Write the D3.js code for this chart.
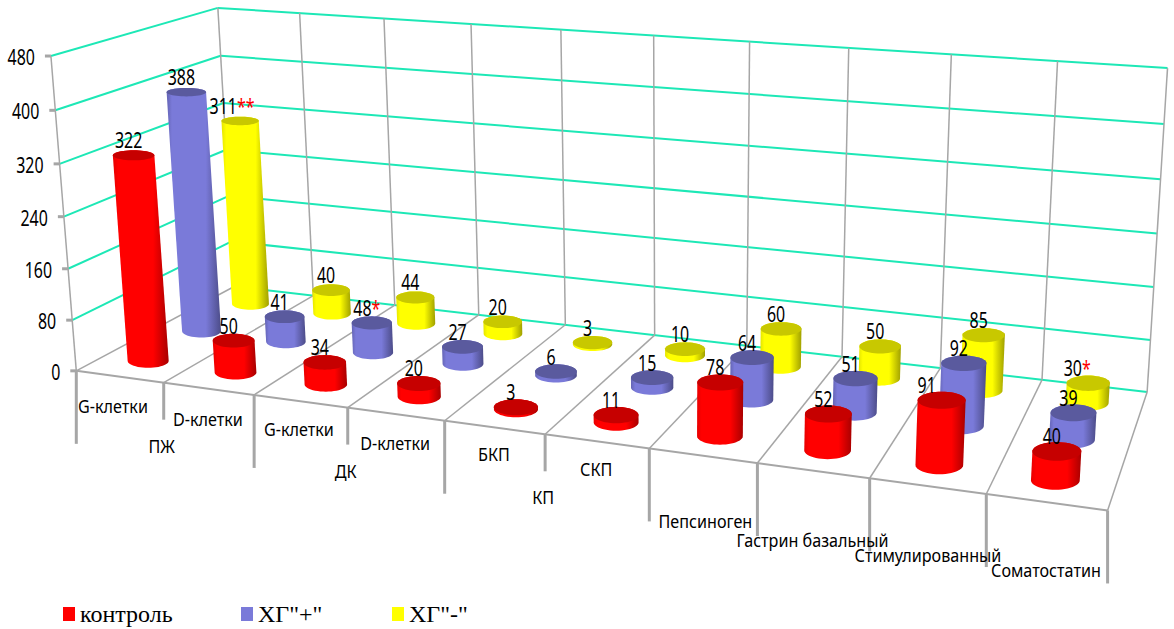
<!DOCTYPE html>
<html><head><meta charset="utf-8">
<script src="https://cdnjs.cloudflare.com/ajax/libs/d3/7.8.5/d3.min.js"></script>
<style>html,body{margin:0;padding:0;background:#fff}svg{display:block}</style>
</head><body><svg id="chart" width="1174" height="629"></svg>
<script>
// Cell density by stomach / duodenum region, three patient groups
const categories = ["G-клетки","D-клетки","G-клетки","D-клетки","БКП","СКП","Пепсиноген","Гастрин базальный","Стимулированный","Соматостатин"];
const control  = [322,50,34,20,3,11,78,52,91,40];
const hgPlus   = [388,41,48,27,6,15,64,51,92,39];
const hgMinus  = [311,40,44,20,3,10,60,50,85,30];
const seriesNames = ['контроль','ХГ"+"','ХГ"-"'];
const yTicks = [0,80,160,240,320,400,480];
const groupLabels = [["ПЖ",1],["ДК",3],["КП",5]];
const marks = {"2:0":"**","1:2":"*","2:9":"*"};
const labelNudge = {"0:8":-10,"2:9":-6,"2:0":-3};

const palette = [
  {hi:"#ff0000",lo:"#a80000",edge:"#e80000",top:"#c60000"},
  {hi:"#7a7ad9",lo:"#4c4c88",edge:"#6464b4",top:"#5a5a9e"},
  {hi:"#ffff00",lo:"#a0a000",edge:"#e4e400",top:"#c8c800"}
];

const svg = d3.select("#chart");

// Camera fit: cube coordinates (x, value, depth) -> screen, solved by least squares
const anchors = [
  [0,0,0,75,371],[1,0,0,1108,510],[0,1,0,53,56],[0,0,1,236,286],[1,0,1,1147,393],[0,1,1,216,8],[1,1,1,1168,68],
  [.5,0,0,545,434],[.5,1,1,654,35.6],[1,.5,1,1156.5,233],[0,.5,0,63,217],[.4,0,0,445,421],[.7,0,0,757,463]
];
function fitCamera(pts){
  const A=[],b=[];
  pts.forEach(([x,y,z,u,v])=>{
    A.push([x,y,z,1,0,0,0,0,-u*x,-u*y,-u*z]);b.push(u);
    A.push([0,0,0,0,x,y,z,1,-v*x,-v*y,-v*z]);b.push(v);
  });
  const n=11,N=d3.range(n).map(i=>d3.range(n+1).map(j=>
    j<n?d3.sum(A,r=>r[i]*r[j]):d3.sum(A,(r,k)=>r[i]*b[k])));
  for(let c=0;c<n;c++){
    let p=c;for(let r=c+1;r<n;r++)if(Math.abs(N[r][c])>Math.abs(N[p][c]))p=r;
    [N[c],N[p]]=[N[p],N[c]];
    for(let r=0;r<n;r++)if(r!==c){const f=N[r][c]/N[c][c];for(let k=c;k<=n;k++)N[r][k]-=f*N[c][k];}
  }
  return d3.range(n).map(i=>N[i][n]/N[i][i]);
}
const m = fitCamera(anchors);
const project = (x,y,z)=>{
  const w=m[8]*x+m[9]*y+m[10]*z+1;
  return [(m[0]*x+m[1]*y+m[2]*z+m[3])/w,(m[4]*x+m[5]*y+m[6]*z+m[7])/w];
};

const xScale = d3.scaleBand().domain(d3.range(categories.length)).range([0,1]);
const xEdge = d3.scaleLinear().domain([0,categories.length]).range([0,1]);
const yScale = d3.scaleLinear().domain([0,480]).range([0,1]);
const zScale = d3.scalePoint().domain(d3.range(3)).range([1/6,5/6]);

const GRID="#1de8b6", AXIS="#a6a6a6";
const segment=(g,a,b,stroke,width)=>g.append("line")
  .attr("x1",a[0]).attr("y1",a[1]).attr("x2",b[0]).attr("y2",b[1])
  .attr("stroke",stroke).attr("stroke-width",width);

// Walls and floor
const frame = svg.append("g");
yTicks.forEach(t=>{
  const y=yScale(t);
  if(t>0) segment(frame,project(0,y,0),project(0,y,1),GRID,2);
  segment(frame,project(0,y,1),project(1,y,1),GRID,2);
});
d3.range(categories.length+1).forEach(i=>{
  const x=xEdge(i);
  segment(frame,project(x,0,1),project(x,1,1),AXIS,1.5);
  segment(frame,project(x,0,0),project(x,0,1),AXIS,1.5);
});
segment(frame,project(0,0,0),project(0,1,0),AXIS,1.5);
segment(frame,project(0,0,0),project(1,0,0),AXIS,2);

// Value axis
const axes = svg.append("g");
yTicks.forEach(t=>{
  const p=project(0,yScale(t),0);
  segment(axes,[p[0]-6,p[1]],[p[0],p[1]],AXIS,3);
  axes.append("text").attr("class","lbl")
    .attr("transform",`translate(${p[0]-16},${p[1]+9}) scale(.76,1)`)
    .attr("text-anchor","end").text(t);
});

// Category axis: long ticks bound groups, short ticks split inside them
const longTick=new Set([0,2,4,6,7,8,9,10]);
d3.range(categories.length+1).forEach(i=>{
  const p=project(xEdge(i),0,0);
  segment(axes,p,[p[0],p[1]+(longTick.has(i)?73:37)],AXIS,3);
});
const catDx=[-7,-1,-2,-1,-1,-1,2,-1,0,-1], catDy=[36,37,35,36,33,35,72,76,76,75];
categories.forEach((c,i)=>{
  const a=project(xEdge(i),0,0),b=project(xEdge(i+1),0,0);
  axes.append("text").attr("class","cat")
    .attr("transform",`translate(${(a[0]+b[0])/2+catDx[i]},${(a[1]+b[1])/2+catDy[i]}) scale(.85,1)`)
    .attr("text-anchor","middle").text(c);
});
groupLabels.forEach(([g,i])=>{
  const p=project(xEdge(i),0,0);
  axes.append("text").attr("class","cat")
    .attr("transform",`translate(${p[0]-2},${p[1]+70}) scale(.85,1)`)
    .attr("text-anchor","middle").text(g);
});

// Shaded fill for each series body
const defs=svg.append("defs");
palette.forEach((c,i)=>{
  const g=defs.append("linearGradient").attr("id","body"+i);
  [[0,c.edge],[.1,c.hi],[.72,c.hi],[1,c.lo]].forEach(([o,col])=>
    g.append("stop").attr("offset",o).attr("stop-color",col));
});

// Cylinders, far rows first; caps stay level on screen and shrink gently with distance
const series=[control,hgPlus,hgMinus];
const rx=.0205, rz=.075;
const cap=(x,y,z,s)=>{
  const c=project(x,y,z);
  const raw=(project(x+rx,y,z)[0]-project(x-rx,y,z)[0])/2;
  const ax=(10.25+.583*raw)*(1-.035*s);
  const ay=Math.abs(project(x,y,z+rz)[1]-project(x,y,z-rz)[1])/2;
  return d3.range(48).map(k=>{
    const t=k/48*2*Math.PI;
    return [c[0]+ax*Math.cos(t),c[1]+ay*Math.sin(t)];
  });
};
const poly=pts=>"M"+pts.map(p=>p.map(v=>v.toFixed(2)).join(",")).join("L")+"Z";
const bars=svg.append("g");
[2,1,0].forEach(s=>{
  categories.forEach((c,i)=>{
    const x=xScale(i)+xScale.bandwidth()/2,z=zScale(s),y=yScale(series[s][i]);
    const base=cap(x,0,z,s),top=cap(x,y,z,s);
    bars.append("path").attr("d",poly(d3.polygonHull(base.concat(top)))).attr("fill",`url(#body${s})`);
    bars.append("path").attr("d",poly(top)).attr("fill",palette[s].top);
  });
});

// Value labels, with significance marks in red
const labels=svg.append("g");
series.forEach((vals,s)=>{
  vals.forEach((v,i)=>{
    const p=project(xScale(i)+xScale.bandwidth()/2,yScale(v),zScale(s));
    const t=labels.append("text").attr("class","lbl")
      .attr("transform",`translate(${p[0]-5+(labelNudge[s+":"+i]||0)},${p[1]-7}) scale(.76,1)`)
      .attr("text-anchor","middle").text(v);
    const mk=marks[s+":"+i];
    if(mk) t.append("tspan").attr("fill","#ff0000").text(mk);
  });
});

// Legend
const legendX=[63,241,392];
const legend=svg.append("g");
seriesNames.forEach((n,i)=>{
  legend.append("rect").attr("x",legendX[i]).attr("y",607).attr("width",12).attr("height",14).attr("fill",palette[i].hi);
  legend.append("text").attr("x",legendX[i]+17).attr("y",622)
    .attr("font-family","'Liberation Serif',serif").attr("font-size",24).attr("fill","#000").text(n);
});
svg.selectAll(".lbl").attr("font-family","'Noto Sans',sans-serif").attr("font-size",21).attr("fill","#000");
svg.selectAll(".cat").attr("font-family","'Noto Sans',sans-serif").attr("font-size",19).attr("fill","#000");
</script></body></html>
